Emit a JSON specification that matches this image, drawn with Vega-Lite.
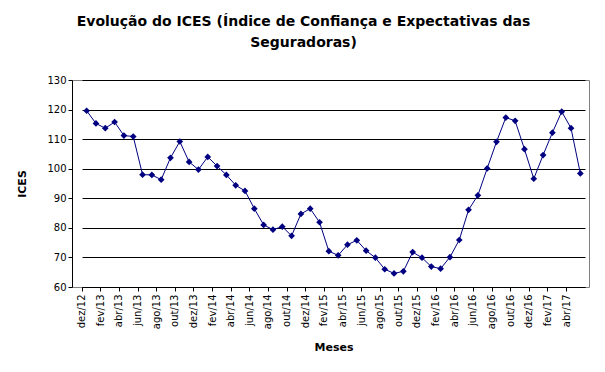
{
  "$schema": "https://vega.github.io/schema/vega-lite/v6.json",
  "width": 517,
  "height": 207,
  "autosize": {"type": "none"},
  "padding": {"left": 72, "top": 80, "right": 16, "bottom": 85},
  "background": "white",
  "title": {
    "text": ["Evolução do ICES (Índice de Confiança e Expectativas das", "Seguradoras)"],
    "font": "DejaVu Sans",
    "fontSize": 14,
    "fontWeight": "bold",
    "color": "black",
    "anchor": "middle",
    "dx": -27,
    "offset": 25,
    "lineHeight": 21
  },
  "data": {
    "values": [
      {"mes": "dez/12", "ices": 119.6},
      {"mes": "jan/13", "ices": 115.3},
      {"mes": "fev/13", "ices": 113.7},
      {"mes": "mar/13", "ices": 115.8},
      {"mes": "abr/13", "ices": 111.2},
      {"mes": "mai/13", "ices": 110.9},
      {"mes": "jun/13", "ices": 98.0},
      {"mes": "jul/13", "ices": 97.9},
      {"mes": "ago/13", "ices": 96.3},
      {"mes": "set/13", "ices": 103.7},
      {"mes": "out/13", "ices": 109.2},
      {"mes": "nov/13", "ices": 102.3},
      {"mes": "dez/13", "ices": 99.7},
      {"mes": "jan/14", "ices": 104.0},
      {"mes": "fev/14", "ices": 100.9},
      {"mes": "mar/14", "ices": 97.9},
      {"mes": "abr/14", "ices": 94.4},
      {"mes": "mai/14", "ices": 92.5},
      {"mes": "jun/14", "ices": 86.5},
      {"mes": "jul/14", "ices": 81.0},
      {"mes": "ago/14", "ices": 79.4},
      {"mes": "set/14", "ices": 80.4},
      {"mes": "out/14", "ices": 77.3},
      {"mes": "nov/14", "ices": 84.7},
      {"mes": "dez/14", "ices": 86.5},
      {"mes": "jan/15", "ices": 81.9},
      {"mes": "fev/15", "ices": 72.1},
      {"mes": "mar/15", "ices": 70.7},
      {"mes": "abr/15", "ices": 74.3},
      {"mes": "mai/15", "ices": 75.8},
      {"mes": "jun/15", "ices": 72.3},
      {"mes": "jul/15", "ices": 69.9},
      {"mes": "ago/15", "ices": 66.0},
      {"mes": "set/15", "ices": 64.6},
      {"mes": "out/15", "ices": 65.3},
      {"mes": "nov/15", "ices": 71.8},
      {"mes": "dez/15", "ices": 69.9},
      {"mes": "jan/16", "ices": 66.9},
      {"mes": "fev/16", "ices": 66.2},
      {"mes": "mar/16", "ices": 70.1},
      {"mes": "abr/16", "ices": 75.9},
      {"mes": "mai/16", "ices": 86.1},
      {"mes": "jun/16", "ices": 91.0},
      {"mes": "jul/16", "ices": 100.1},
      {"mes": "ago/16", "ices": 109.1},
      {"mes": "set/16", "ices": 117.3},
      {"mes": "out/16", "ices": 116.2},
      {"mes": "nov/16", "ices": 106.6},
      {"mes": "dez/16", "ices": 96.6},
      {"mes": "jan/17", "ices": 104.6},
      {"mes": "fev/17", "ices": 112.2},
      {"mes": "mar/17", "ices": 119.3},
      {"mes": "abr/17", "ices": 113.7},
      {"mes": "mai/17", "ices": 98.4}
    ]
  },
  "encoding": {
    "x": {
      "field": "mes",
      "type": "ordinal",
      "sort": null,
      "scale": {"type": "point", "range": [10, 513]},
      "axis": {
        "title": "Meses",
        "titleFont": "DejaVu Sans",
        "titleFontSize": 11,
        "titleFontWeight": "bold",
        "titleColor": "black",
        "titlePadding": 13,
        "labelFont": "DejaVu Sans",
        "labelFontSize": 10,
        "labelColor": "black",
        "labelAngle": -90,
        "labelPadding": 3,
        "values": ["dez/12","fev/13","abr/13","jun/13","ago/13","out/13","dez/13","fev/14","abr/14","jun/14","ago/14","out/14","dez/14","fev/15","abr/15","jun/15","ago/15","out/15","dez/15","fev/16","abr/16","jun/16","ago/16","out/16","dez/16","fev/17","abr/17"],
        "domainColor": "black",
        "tickColor": "black",
        "tickSize": 4,
        "tickOffset": -5,
        "grid": false
      }
    },
    "y": {
      "field": "ices",
      "type": "quantitative",
      "scale": {"domain": [60, 130], "nice": false, "zero": false},
      "axis": {
        "title": "ICES",
        "titleFont": "DejaVu Sans",
        "titleFontSize": 11,
        "titleFontWeight": "bold",
        "titleColor": "black",
        "titlePadding": 19,
        "labelFont": "DejaVu Sans",
        "labelFontSize": 10,
        "labelColor": "black",
        "values": [60, 70, 80, 90, 100, 110, 120, 130],
        "domainColor": "black",
        "tickColor": "black",
        "tickSize": 4,
        "grid": true,
        "gridColor": "black",
        "gridOpacity": 1
      }
    }
  },
  "layer": [
    {"mark": {"type": "line", "color": "#000080", "strokeWidth": 1}},
    {"mark": {"type": "point", "shape": "diamond", "filled": true, "color": "#000080", "size": 45, "opacity": 1}}
  ],
  "config": {
    "view": {"stroke": "#808080", "strokeWidth": 1}
  }
}
